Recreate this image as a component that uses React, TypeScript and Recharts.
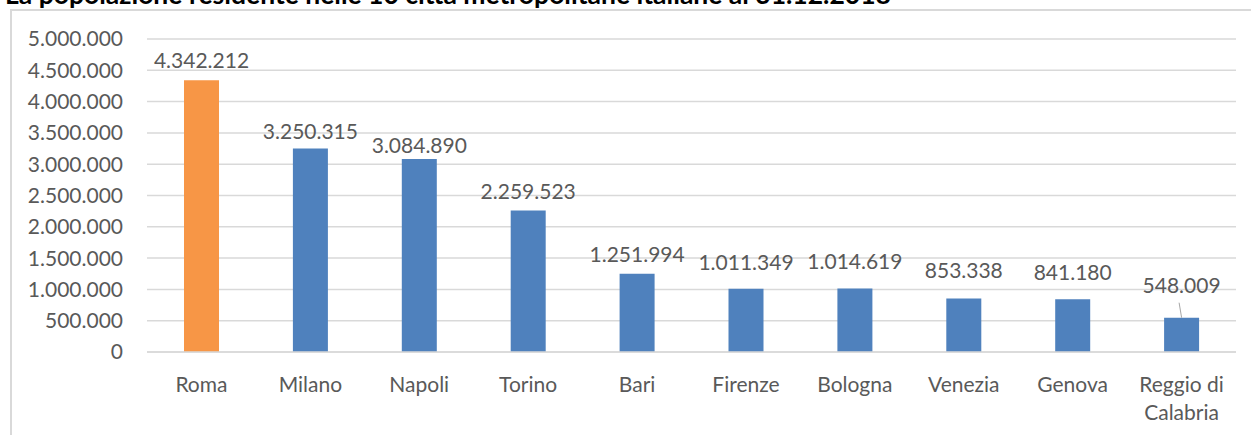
import { Bar, BarChart, CartesianGrid, Cell, LabelList, XAxis, YAxis } from "recharts";

const CITIES = [
  "Roma",
  "Milano",
  "Napoli",
  "Torino",
  "Bari",
  "Firenze",
  "Bologna",
  "Venezia",
  "Genova",
  "Reggio di Calabria",
];
const POPULATION = [
  4342212, 3250315, 3084890, 2259523, 1251994, 1011349, 1014619, 853338,
  841180, 548009,
];
const Y_TICKS = [
  0, 500000, 1000000, 1500000, 2000000, 2500000, 3000000, 3500000, 4000000,
  4500000, 5000000,
];
const TITLE =
  "La popolazione residente nelle 10 città metropolitane italiane al 31.12.2018";

// label gap above each bar (Excel nudged a few of them)
const LABEL_GAP = [12, 10, 6, 12, 12, 19, 19, 21, 19, 25];

const FONT = "Lato, 'Open Sans', sans-serif";
const TEXT = "#595959";
const GRID = "#D9D9D9";

const data = CITIES.map((city, i) => ({ city, value: POPULATION[i] }));

const fmt = (v: number) => String(v).replace(/\B(?=(\d{3})+(?!\d))/g, ".");

function CityTick({ x, y, payload }: any) {
  const words: string[] = payload.value === "Reggio di Calabria"
    ? ["Reggio di", "Calabria"]
    : [payload.value];
  return (
    <text
      x={x}
      y={y}
      textAnchor="middle"
      fill={TEXT}
      fontFamily={FONT}
      fontSize={21}
    >
      {words.map((w, i) => (
        <tspan key={w} x={x} dy={i === 0 ? 32 : 28}>
          {w}
        </tspan>
      ))}
    </text>
  );
}

function ValueLabel(props: any) {
  const { x, y, width, value, index } = props;
  const cx = x + width / 2;
  const gap = LABEL_GAP[index] ?? 10;
  return (
    <g>
      {index === CITIES.length - 1 && (
        <line x1={cx - 2.5} y1={y - 15} x2={cx} y2={y} stroke="#A6A6A6" strokeWidth={1} />
      )}
      <text
        x={cx}
        y={y - gap}
        textAnchor="middle"
        fill={TEXT}
        fontFamily={FONT}
        fontSize={21}
      >
        {fmt(value)}
      </text>
    </g>
  );
}

export default function App() {
  return (
    <div
      style={{
        position: "absolute",
        left: 0,
        top: 0,
        width: 1251,
        height: 435,
        overflow: "hidden",
        background: "#fff",
      }}
    >
      <div
        style={{
          position: "absolute",
          left: 10,
          top: 9,
          width: 1300,
          height: 500,
          borderLeft: `2px solid ${GRID}`,
          borderTop: `2px solid ${GRID}`,
        }}
      />
      <div
        style={{
          position: "absolute",
          left: 5,
          top: -22,
          fontFamily: FONT,
          fontWeight: 700,
          fontSize: 26.5,
          color: "#000",
          whiteSpace: "nowrap",
          lineHeight: "32px",
        }}
      >
        {TITLE}
      </div>
      <div style={{ position: "absolute", left: 0, top: 0 }}>
        <BarChart
          width={1251}
          height={435}
          data={data}
          margin={{ top: 39, right: 15, bottom: 0, left: 0 }}
        >
          <CartesianGrid vertical={false} stroke={GRID} strokeWidth={1.5} />
          <XAxis
            dataKey="city"
            height={83}
            axisLine={{ stroke: GRID, strokeWidth: 1.5 }}
            tickLine={false}
            interval={0}
            tick={<CityTick />}
          />
          <YAxis
            width={147}
            domain={[0, 5000000]}
            ticks={Y_TICKS}
            axisLine={false}
            tickLine={false}
            tickSize={0}
            tickMargin={24}
            tickFormatter={fmt}
            tick={{ fill: TEXT, fontFamily: FONT, fontSize: 21 }}
          />
          <Bar dataKey="value" barSize={35} isAnimationActive={false}>
            {data.map((d, i) => (
              <Cell key={d.city} fill={i === 0 ? "#F79646" : "#4F81BD"} />
            ))}
            <LabelList dataKey="value" content={<ValueLabel />} />
          </Bar>
        </BarChart>
      </div>
    </div>
  );
}
